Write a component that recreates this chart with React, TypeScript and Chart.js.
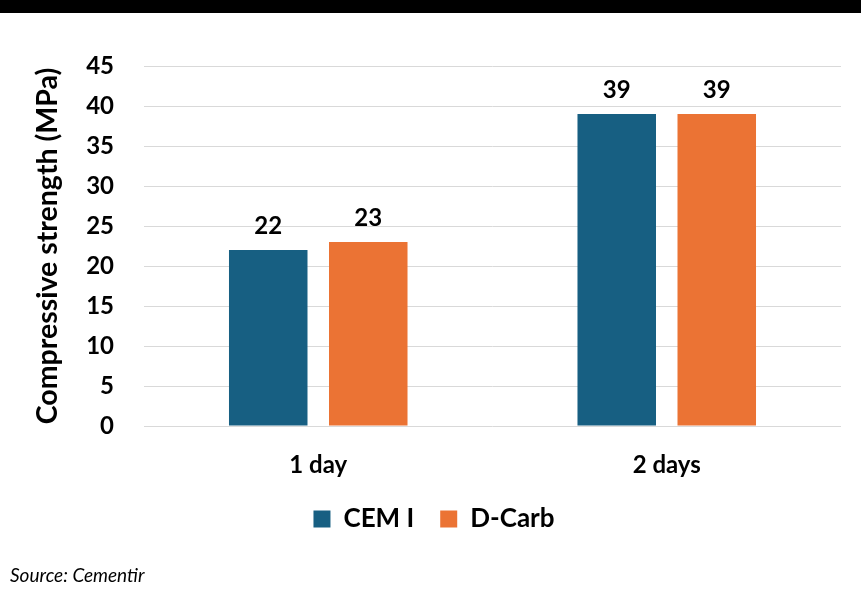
import React, { useEffect, useRef } from "react";
import { Chart, registerables } from "chart.js";

Chart.register(...registerables);

const categories = ["1 day", "2 days"];
const seriesNames = ["CEM I", "D-Carb"];
const cemValues = [22, 39];
const dcarbValues = [23, 39];
const yTicks = [0, 5, 10, 15, 20, 25, 30, 35, 40, 45];

const FONT = "Lato";

const dataLabelPlugin = {
  id: "dataLabels",
  afterDatasetsDraw(chart: any) {
    const ctx = chart.ctx;
    ctx.save();
    ctx.font = `bold 24px ${FONT}`;
    ctx.fillStyle = "#000";
    ctx.textAlign = "center";
    ctx.textBaseline = "alphabetic";
    chart.data.datasets.forEach((ds: any, i: number) => {
      const meta = chart.getDatasetMeta(i);
      meta.data.forEach((bar: any, j: number) => {
        ctx.fillText(String(ds.data[j]), bar.x, bar.y - 16);
      });
    });
    ctx.restore();
  },
};

export default function App() {
  const ref = useRef<HTMLCanvasElement>(null);
  useEffect(() => {
    if (!ref.current) return;
    const chart = new Chart(ref.current, {
      type: "bar",
      data: {
        labels: categories,
        datasets: [
          {
            label: seriesNames[0],
            data: cemValues,
            backgroundColor: "#175F82",
            categoryPercentage: 0.574,
            barPercentage: 0.785,
          },
          {
            label: seriesNames[1],
            data: dcarbValues,
            backgroundColor: "#EB7334",
            categoryPercentage: 0.574,
            barPercentage: 0.785,
          },
        ],
      },
      options: {
        animation: false,
        responsive: false,
        maintainAspectRatio: false,
        layout: { padding: { top: 66, left: 27, right: 20, bottom: 50 } },
        plugins: {
          legend: {
            position: "bottom",
            labels: {
              boxWidth: 17,
              boxHeight: 17,
              padding: 26,
              color: "#000",
              font: { family: FONT, size: 26, weight: "bold" },
            },
          },
          tooltip: { enabled: false },
        },
        scales: {
          x: {
            grid: { display: false, drawTicks: false },
            border: { display: false },
            afterFit: (scale: any) => {
              scale.height = 54;
            },
            ticks: {
              color: "#000",
              padding: 25,
              font: { family: FONT, size: 24, weight: "bold" },
            },
          },
          y: {
            min: 0,
            max: 45,
            afterBuildTicks: (axis: any) => {
              axis.ticks = yTicks.map((v) => ({ value: v }));
            },
            afterFit: (scale: any) => {
              scale.width = 117;
            },
            grid: { color: "#D9D9D9", lineWidth: 1, drawTicks: false },
            border: { display: false },
            ticks: {
              color: "#000",
              padding: 30,
              font: { family: FONT, size: 24, weight: "bold" },
            },
            title: {
              display: true,
              text: "Compressive strength (MPa)",
              color: "#000",
              padding: { top: 4, bottom: 4 },
              font: { family: FONT, size: 28.5, weight: "bold" },
            },
          },
        },
      },
      plugins: [dataLabelPlugin],
    });
    return () => chart.destroy();
  }, []);

  return (
    <div
      style={{
        position: "absolute",
        left: 0,
        top: 0,
        width: 861,
        height: 592,
        background: "#fff",
        overflow: "hidden",
      }}
    >
      <canvas ref={ref} width={861} height={592} style={{ position: "absolute", left: 0, top: 0 }} />
      <div style={{ position: "absolute", left: 0, top: 0, width: 861, height: 13, background: "#000" }} />
      <div
        style={{
          position: "absolute",
          left: 10,
          top: 563,
          fontFamily: FONT,
          fontStyle: "italic",
          fontSize: 19,
          color: "#000",
          whiteSpace: "nowrap",
        }}
      >
        Source: Cementir
      </div>
    </div>
  );
}
